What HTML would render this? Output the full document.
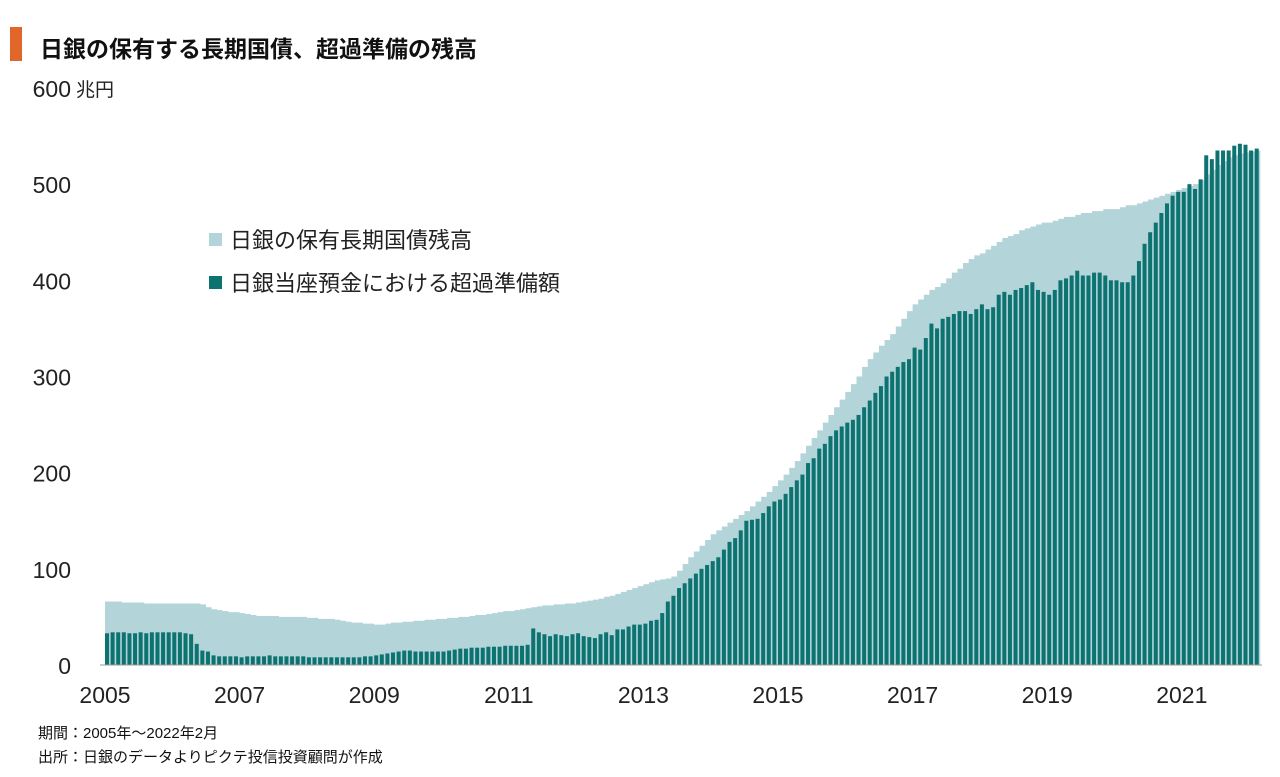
<!DOCTYPE html>
<html><head><meta charset="utf-8">
<style>
body{margin:0;background:#fff;font-family:"Liberation Sans","Noto Sans CJK JP",sans-serif;}
#wrap{position:relative;width:1280px;height:777px;overflow:hidden;}
</style></head>
<body>
<div id="wrap">
<div style="position:absolute;left:10px;top:27px;width:12px;height:34px;background:#e0662a"></div>
<div style="position:absolute;left:40px;top:30px;font-size:23px;font-weight:bold;color:#111">日銀の保有する長期国債、超過準備の残高</div>
<svg id="chart" width="1280" height="777" style="position:absolute;left:0;top:0"></svg>
<div style="position:absolute;left:38px;top:722px;font-size:15px;color:#111">期間：2005年～2022年2月</div>
<div style="position:absolute;left:38px;top:746px;font-size:15px;color:#111">出所：日銀のデータよりピクテ投信投資顧問が作成</div>
</div>
<script>
const years=["2005","2007","2009","2011","2013","2015","2017","2019","2021"];
const yTicks=[0,100,200,300,400,500,600];
const jgb=[66,66,66,65,65,65,65,64,64,64,64,64,
64,64,64,64,64,63,60,58,57,56,55,55,
54,53,52,51,51,51,51,50,50,50,50,50,
49,49,48,48,48,47,46,45,44,44,43,43,
42,42,43,44,44,45,45,46,46,47,47,48,
48,49,49,50,50,51,52,52,53,54,55,56,
56,57,58,59,60,61,62,62,63,63,64,64,
65,66,67,68,69,71,72,74,76,78,80,82,
84,86,88,89,90,92,98,105,112,118,124,130,
136,140,144,148,152,156,160,165,170,175,180,186,
192,198,205,212,220,228,236,244,252,260,268,276,
284,292,300,310,318,325,332,338,344,352,360,368,
375,380,385,390,393,397,402,408,412,418,422,426,
428,432,436,440,444,446,448,452,454,456,458,460,
460,462,464,466,466,468,470,470,472,472,474,474,
474,476,478,478,480,482,484,486,488,490,492,494,
496,498,500,504,510,515,520,524,528,530,532,533,
534,535];
const reserves=[33,34,34,34,33,33,34,33,34,34,34,34,
34,34,33,32,22,15,14,10,9,9,9,9,
8,9,9,9,9,10,9,9,9,9,9,9,
8,8,8,8,8,8,8,8,8,8,9,9,
10,11,12,13,14,15,15,14,14,14,14,14,
14,15,16,17,17,18,18,18,19,19,19,20,
20,20,20,21,38,34,32,30,32,31,30,32,
33,30,29,28,32,34,31,37,37,40,42,42,
43,46,47,54,66,72,80,85,90,95,100,104,
108,112,120,128,132,140,150,151,152,158,165,170,
172,178,185,192,198,210,215,225,230,238,244,248,
252,255,260,268,275,283,290,300,305,310,315,318,
330,328,340,355,350,360,362,365,368,368,365,370,
375,370,372,385,388,385,390,392,395,398,390,388,
385,390,400,402,405,410,405,405,408,408,405,400,
400,398,398,405,420,438,450,460,470,480,488,492,
492,500,495,505,530,526,535,535,535,540,542,541,
535,537];
const NS="http://www.w3.org/2000/svg";
const svg=document.getElementById('chart');
const x0=105, pxYear=67.3, y0=665, pxUnit=0.9617;
function xm(i){return x0+i*pxYear/12;}
function yv(v){return y0-v*pxUnit;}
function mk(t,a){const e=document.createElementNS(NS,t);for(const k in a)e.setAttribute(k,a[k]);svg.appendChild(e);return e;}
// area
let pts=[xm(0)+','+y0];
jgb.forEach((v,i)=>{pts.push(xm(i)+','+yv(v));pts.push((xm(i)+pxYear/12)+','+yv(v));});
pts.push((xm(jgb.length))+','+y0);
const area=mk('polygon',{points:pts.join(' '),fill:'#b3d4d9'});


reserves.forEach((v,i)=>{
 const r=mk('rect',{x:xm(i),y:yv(v),width:4,height:v*pxUnit,fill:'#0d7371'});
 
 
});
const ax=mk('line',{x1:100,x2:1262,y1:y0,y2:y0,stroke:'#999','stroke-width':1});


yTicks.forEach(t=>{
 const tx=mk('text',{x:71,y:yv(t)+9,'text-anchor':'end','font-size':23,fill:'#222'});
 tx.textContent=t;
 
 
});
const unit=mk('text',{x:76,y:yv(600)+8,'font-size':19,fill:'#222'});
unit.textContent='兆円';


years.forEach((yr,k)=>{
 const tx=mk('text',{x:x0+k*2*pxYear,y:703,'text-anchor':'middle','font-size':23,fill:'#222'});
 tx.textContent=yr;
 
 
});
const l1=mk('rect',{x:209,y:233,width:13,height:13,fill:'#b3d4d9'});


const t1=mk('text',{x:230,y:248,'font-size':22,fill:'#222'});
t1.textContent='日銀の保有長期国債残高';


const l2=mk('rect',{x:209,y:276,width:13,height:13,fill:'#0d7371'});


const t2=mk('text',{x:230,y:291,'font-size':22,fill:'#222'});
t2.textContent='日銀当座預金における超過準備額';


</script>
</body></html>
